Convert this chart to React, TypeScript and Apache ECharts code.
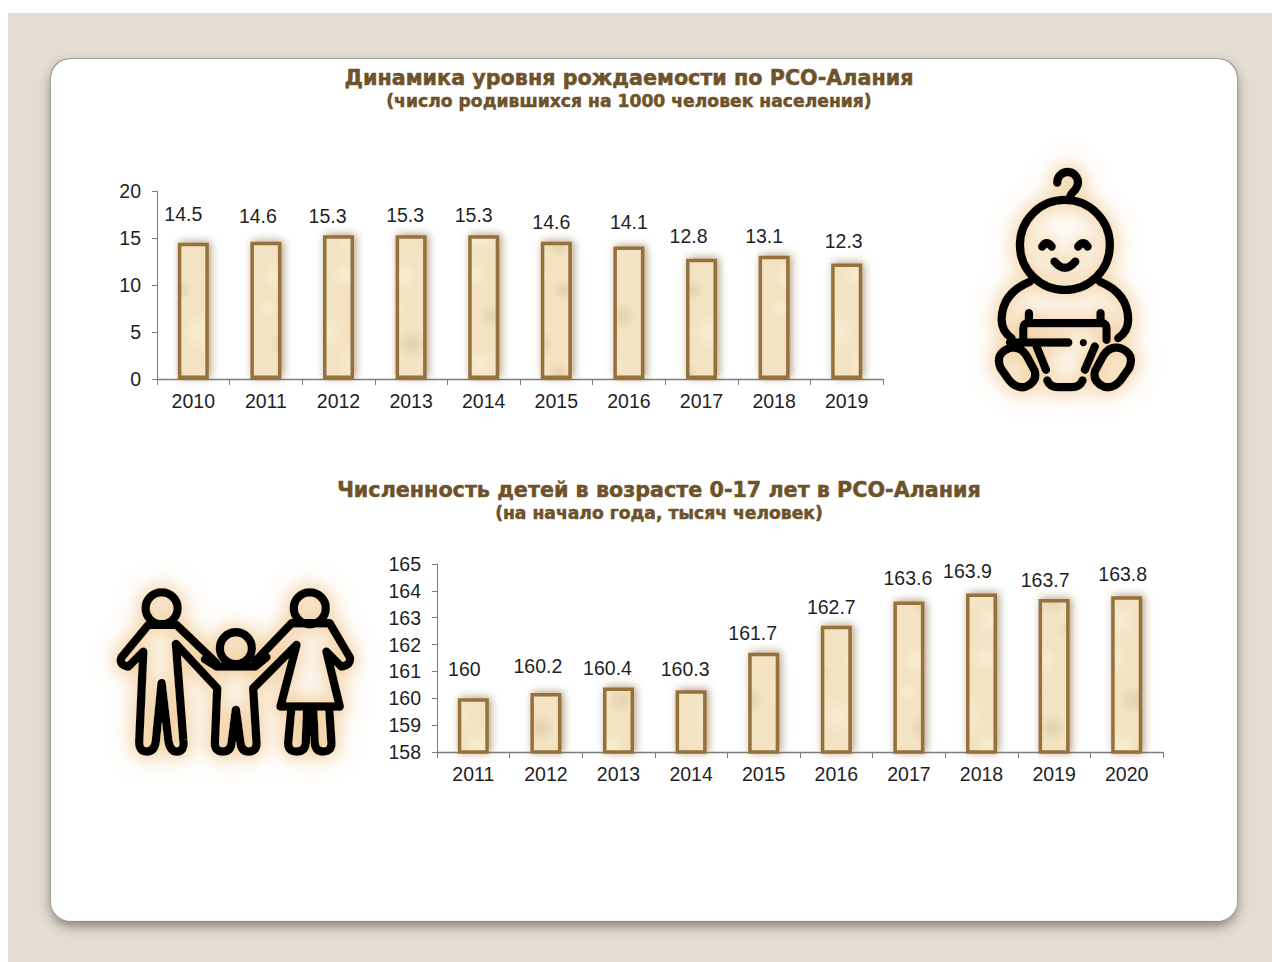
import React, { useEffect, useRef } from "react";
import * as echarts from "echarts";

const birthYears = ["2010", "2011", "2012", "2013", "2014", "2015", "2016", "2017", "2018", "2019"];
const birthRates = [14.5, 14.6, 15.3, 15.3, 15.3, 14.6, 14.1, 12.8, 13.1, 12.3];
const childYears = ["2011", "2012", "2013", "2014", "2015", "2016", "2017", "2018", "2019", "2020"];
const childCounts = [160, 160.2, 160.4, 160.3, 161.7, 162.7, 163.6, 163.9, 163.7, 163.8];

const birthLabelShift = [[-10, -19], [-8, -16], [-11, -9], [-6, -10], [-10, -10], [-5, -10], [0, -14], [-13, -13], [-10, -10], [-3, -12]];
const childLabelShift = [[-9, -19], [-8, -17], [-11, -10], [-6, -11], [-11, -10], [-5, -9], [-1, -14], [-14, -13], [-9, -9], [-4, -12]];

const circle = (cx: number, cy: number, r: number) =>
  `M${cx - r} ${cy}A${r} ${r} 0 1 1 ${cx + r} ${cy}A${r} ${r} 0 1 1 ${cx - r} ${cy}Z`;

const babyPath = [
  circle(285, 285, 135),
  "M262 98A31 31 0 1 1 322 108Q318 120 308 128Q300 136 300 148",
  "M217 290Q230 270 245 290",
  "M325 290Q340 270 353 290",
  "M254 335Q285 372 316 335",
  "M180 395Q95 430 95 510Q95 545 125 565",
  "M390 395Q475 430 475 510Q475 545 445 565",
  "M160 575V535Q160 520 175 520H395Q410 520 410 535V570",
  "M177 490V520M392 490V520",
  "M120 578H295",
  "M200 590L228 660M375 590L345 660",
  "M232 692Q240 712 265 712H305Q330 712 338 692",
  "M118 595Q150 586 170 618L194 662Q204 696 167 711Q140 718 118 692L92 655Q74 612 118 595Z",
  "M452 595Q420 586 400 618L376 662Q366 696 403 711Q430 718 452 692L478 655Q496 612 452 595Z",
].join("");

const familyPath = [
  circle(185, 115, 48),
  circle(408, 235, 48),
  circle(630, 115, 48),
  "M145 165H230L350 280",
  "M145 165L65 262Q55 285 85 290L130 245L118 510Q115 545 140 545Q165 545 168 510L185 340L205 510Q210 545 230 545Q255 545 250 510L228 222L352 355L345 520Q345 545 368 545Q392 545 395 520L408 420L422 520Q425 545 447 545Q470 545 470 520L460 355L590 225L542 410H720L680 245L725 290Q755 285 750 262L690 160H575L465 275",
  "M315 268L350 290H466L500 262",
  "M575 410L565 520Q565 545 590 545Q615 545 618 520L622 410",
  "M640 410L645 520Q648 545 670 545Q695 545 695 520L688 410",
].join("");

function parchment() {
  const size = 128;
  const c = document.createElement("canvas");
  c.width = size;
  c.height = size;
  const g = c.getContext("2d")!;
  g.fillStyle = "#f3e3c2";
  g.fillRect(0, 0, size, size);
  const blots = [[20, 20, 16], [52, 34, 12], [90, 18, 15], [110, 60, 14], [70, 76, 18], [28, 88, 15], [96, 108, 17], [46, 118, 12], [12, 52, 10]];
  blots.forEach(([x, y, r], i) => {
    const rg = g.createRadialGradient(x, y, 0, x, y, r);
    const tone = i % 2 ? "224,206,170" : "249,238,212";
    rg.addColorStop(0, `rgba(${tone},0.8)`);
    rg.addColorStop(1, `rgba(${tone},0)`);
    g.fillStyle = rg;
    g.fillRect(0, 0, size, size);
  });
  return c;
}

const ink = "#1f1f1f";
const axisColor = "#7d7d7d";
const textFont = "'Liberation Sans', Arial, sans-serif";
const numSize = 19.5;

function xAxis(gridIndex: number, data: string[]) {
  return {
    type: "category", gridIndex, data,
    axisLine: { lineStyle: { color: axisColor, width: 1.3 } },
    axisTick: { show: true, alignWithLabel: false, length: 6, lineStyle: { color: axisColor } },
    axisLabel: { color: ink, fontSize: numSize, fontFamily: textFont, margin: 12, interval: 0 },
    splitLine: { show: false },
  };
}
function yAxis(gridIndex: number, min: number, max: number, interval: number) {
  return {
    type: "value", gridIndex, min, max, interval,
    axisLine: { show: true, lineStyle: { color: axisColor, width: 1 } },
    axisTick: { show: true, length: 5, lineStyle: { color: axisColor } },
    axisLabel: { color: ink, fontSize: numSize, fontFamily: textFont, margin: 16, padding: [0, 0, 2, 0] },
    splitLine: { show: false },
  };
}
function barSeries(index: number, values: number[], shift: number[][], texture: HTMLCanvasElement) {
  return {
    type: "bar", xAxisIndex: index, yAxisIndex: index, barWidth: 31,
    itemStyle: {
      color: { image: texture, repeat: "repeat" },
      borderColor: "#96713a", borderWidth: 3.5,
      shadowBlur: 8, shadowColor: "rgba(125,92,45,0.6)", shadowOffsetX: 2, shadowOffsetY: -1,
    },
    emphasis: { disabled: true },
    data: values.map((value, i) => ({
      value,
      label: {
        show: true, position: "top", distance: 0, offset: shift[i],
        color: ink, fontSize: numSize, fontFamily: textFont,
      },
    })),
  };
}

const headFont = "'DejaVu Sans', Verdana, sans-serif";
function heading(text: string, cx: number, top: number, fontSize: number) {
  return {
    text, left: cx, top, textAlign: "center",
    textStyle: {
      color: "#6e5229", fontSize, fontWeight: "bold", fontFamily: headFont,
      textBorderColor: "#6e5229", textBorderWidth: 0.5,
    },
  };
}

export default function App() {
  const ref = useRef<HTMLDivElement>(null);
  useEffect(() => {
    document.body.style.margin = "0";
    echarts.graphic.registerShape("babyIcon", echarts.graphic.extendPath(babyPath, {}));
    echarts.graphic.registerShape("familyIcon", echarts.graphic.extendPath(familyPath, {}));
    const chart = echarts.init(ref.current!, undefined, { renderer: "svg" });
    const texture = parchment();
    const iconStyle = (blur: number) => ({
      fill: "none", stroke: "#000", lineWidth: 25, lineCap: "round", lineJoin: "round",
      shadowColor: "#f0cc98", shadowBlur: blur,
    });
    const iconLayers = (type: string, x: number, y: number) =>
      [28, 16].map((blur, i) => ({
        type, z: 5 + i, silent: true, x, y, scaleX: 1 / 3, scaleY: 1 / 3, style: iconStyle(blur),
      }));
    chart.setOption({
      animation: false,
      backgroundColor: "#ffffff",
      title: [
        heading("Динамика уровня рождаемости по РСО-Алания", 624, 62, 20.7),
        heading("(число родившихся на 1000 человек населения)", 624, 87, 17.2),
        heading("Численность детей в возрасте 0-17 лет в РСО-Алания", 654, 474, 20.7),
        heading("(на начало года, тысяч человек)", 654, 499, 17.2),
      ],
      grid: [
        { left: 157, top: 191, width: 726, height: 188 },
        { left: 437, top: 564, width: 726, height: 188 },
      ],
      xAxis: [xAxis(0, birthYears), xAxis(1, childYears)],
      yAxis: [yAxis(0, 0, 20, 5), yAxis(1, 158, 165, 1)],
      series: [
        barSeries(0, birthRates, birthLabelShift, texture),
        barSeries(1, childCounts, childLabelShift, texture),
      ],
      graphic: [
        { type: "rect", z: -10, silent: true, shape: { x: 8, y: 13, width: 1264, height: 949 }, style: { fill: "#e3ddd2" } },
        {
          type: "rect", z: -9, silent: true,
          shape: { x: 51, y: 60, width: 1186, height: 861, r: 20 },
          style: { fill: "#f2f1ef", shadowColor: "rgba(70,62,48,0.6)", shadowBlur: 12, shadowOffsetY: 5 },
        },
        { type: "rect", z: -8, silent: true, shape: { x: 50, y: 58, width: 1188, height: 858, r: 20 }, style: { fill: "#a3a19d" } },
        { type: "rect", z: -7, silent: true, shape: { x: 51, y: 59, width: 1186, height: 861, r: 20 }, style: { fill: "#ffffff" } },
        ...iconLayers("babyIcon", 970, 150),
        { type: "circle", z: 7, silent: true, shape: { cx: 1083.3, cy: 342.7, r: 3.6 }, style: { fill: "#000" } },
        ...iconLayers("familyIcon", 100, 570),
      ],
    });
    return () => chart.dispose();
  }, []);
  return <div ref={ref} style={{ position: "absolute", left: 0, top: 0, width: 1272, height: 962 }} />;
}
